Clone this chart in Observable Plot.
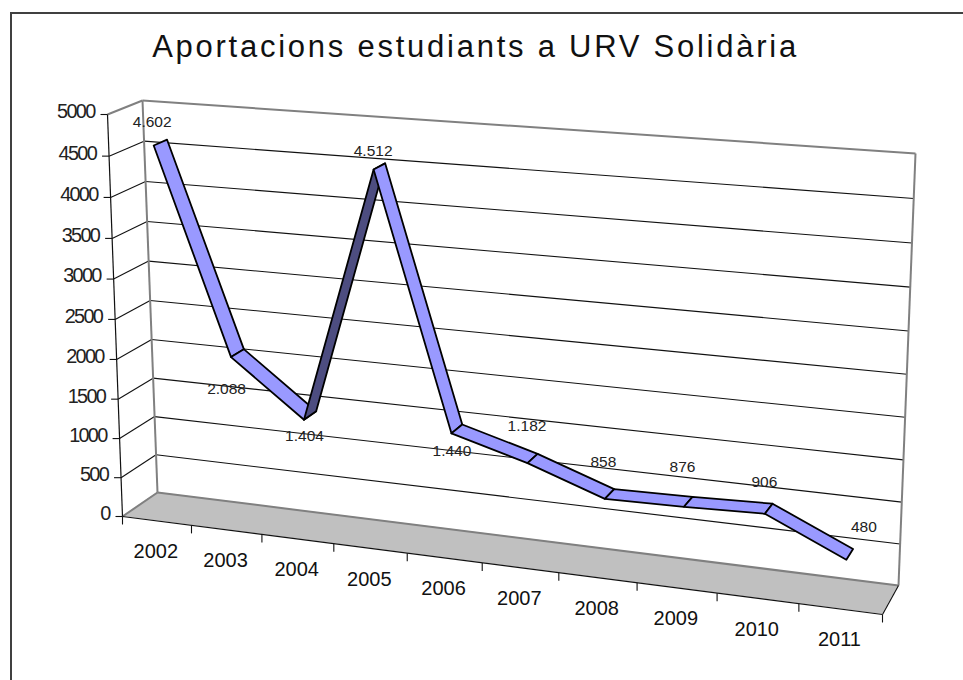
<!DOCTYPE html>
<html>
<head>
<meta charset="utf-8">
<script src="https://cdn.jsdelivr.net/npm/d3@7"></script>
<script src="https://cdn.jsdelivr.net/npm/@observablehq/plot@0.6"></script>
<style>
  html, body { margin: 0; padding: 0; background: #fff; overflow: hidden; width: 963px; height: 680px; }
  #frame { position: absolute; left: 10px; top: 12px; width: 1000px; height: 800px; border: 2px solid #404040; pointer-events: none; }
  #chart { position: absolute; left: 0; top: 0; }
  g[font-size="31"] text { letter-spacing: 2.75px; }
  g[font-size="19.9"] text { letter-spacing: -1.7px; }
</style>
</head>
<body>
<div id="chart"></div>
<div id="frame"></div>
<script>
const chartTitle = "Aportacions estudiants a URV Solidària";
const years = ["2002","2003","2004","2005","2006","2007","2008","2009","2010","2011"];
const values = [4602, 2088, 1404, 4512, 1440, 1182, 858, 876, 906, 480];
const valueLabels = ["4.602","2.088","1.404","4.512","1.440","1.182","858","876","906","480"];
const valueTicks = [0,500,1000,1500,2000,2500,3000,3500,4000,4500,5000];

// Layout: the 3D box as seen on the page (front plane and back wall).
const W = 963, H = 680;
const frontQuad = [[122,516],[882,614],[899,169],[107,114]];
const backQuad  = [[157,492],[898,585],[915,153],[142,100]];
const ribbonFront = 0.29, ribbonBack = 0.68;
const labelNudge = [[-2,-24],[-5,31],[0,16],[-1,-19],[0,17],[-1,-38],[-2,-37],[-2,-40],[-1,-32],[17,-33]];

function homography(q) {
  const [[x0,y0],[x1,y1],[x2,y2],[x3,y3]] = q;
  const sx = x0-x1+x2-x3, sy = y0-y1+y2-y3;
  const dx1 = x1-x2, dx2 = x3-x2, dy1 = y1-y2, dy2 = y3-y2;
  const den = dx1*dy2-dx2*dy1;
  const g = (sx*dy2-dx2*sy)/den, h = (dx1*sy-sx*dy1)/den;
  const a = x1-x0+g*x1, b = x3-x0+h*x3, d = y1-y0+g*y1, e = y3-y0+h*y3;
  return (u,v) => {
    const w = g*u+h*v+1;
    return [(a*u+b*v+x0)/w, (d*u+e*v+y0)/w];
  };
}
const front = homography(frontQuad), back = homography(backQuad);
// category position (0..n), value, depth (0 front .. 1 back) -> page position
function project(cat, val, depth) {
  const u = cat/years.length, v = val/5000;
  const f = front(u,v), b = back(u,v);
  return [f[0]+(b[0]-f[0])*depth, f[1]+(b[1]-f[1])*depth];
}
const seg = (a,b) => ({x1:a[0],y1:a[1],x2:b[0],y2:b[1]});

// floor
const n = years.length;
const floorRows = [
  seg(project(0,0,0), project(0,0,1)),
  seg(project(n,0,0), project(n,0,1))
];
// gridlines
const gridBack = valueTicks.slice(1,-1).map(v => seg(project(0,v,1), project(n,v,1)));
const gridSide = valueTicks.slice(1,-1).map(v => seg(project(0,v,0), project(0,v,1)));
const wallEdges = [
  seg(project(0,5000,0), project(0,5000,1)),
  seg(project(0,5000,1), project(n,5000,1)),
  seg(project(0,5000,1), project(0,0,1)),
  seg(project(n,5000,1), project(n,0,1)),
  seg(project(0,0,1), project(n,0,1)),
  seg(project(0,0,0), project(0,0,1))
];
const frameEdges = [
  seg(project(0,5000,0), project(0,0,0)),
  seg(project(0,0,0), project(n,0,0)),
  seg(project(n,0,0), project(n,0,1))
];
const valueTickRows = valueTicks.map(v => {
  const p = project(0,v,0);
  return {...seg([p[0]-7,p[1]], p), label:String(v), lx:p[0]-13, ly:p[1]-3};
});
const catTickRows = d3.range(n+1).map(i => {
  const p = project(i,0,0);
  return seg(p, [p[0],p[1]+8]);
});
const yearRows = years.map((y,i) => {
  const p = project(i+0.5,0,0);
  return {label:y, x:p[0]-1, y:p[1]+31};
});
// ribbon: one quad per pair of successive years, painted left to right;
// a quad that climbs on the page shows its shaded side
const ribbonRows = [];
values.slice(0,-1).forEach((v,i) => {
  const next = values[i+1];
  const a = project(i+.5,v,ribbonFront), b = project(i+1.5,next,ribbonFront);
  const colour = b[1] < a[1] ? "#4d4d80" : "#9999ff";
  ribbonRows.push({...seg(a, project(i+.5,v,ribbonBack)), s:i, colour});
  ribbonRows.push({...seg(b, project(i+1.5,next,ribbonBack)), s:i, colour});
});
const labelRows = values.map((v,i) => {
  const p = project(i+.5,v,ribbonFront);
  return {label:valueLabels[i], x:p[0]+labelNudge[i][0], y:p[1]+labelNudge[i][1]};
});

const fontFamily = "'Liberation Sans', Arial, sans-serif";
const plot = Plot.plot({
  width: W, height: H,
  margin: 0,
  x: {domain:[0,W], range:[0,W], axis:null},
  y: {domain:[0,H], range:[0,H], axis:null},
  style: {background:"transparent"},
  marks: [
    Plot.area(floorRows, {x1:"x1",y1:"y1",x2:"x2",y2:"y2",fill:"#c0c0c0"}),
    Plot.link(gridBack, {x1:"x1",y1:"y1",x2:"x2",y2:"y2",stroke:"#111",strokeWidth:1.1}),
    Plot.link(gridSide, {x1:"x1",y1:"y1",x2:"x2",y2:"y2",stroke:"#111",strokeWidth:1.1}),
    Plot.link(wallEdges, {x1:"x1",y1:"y1",x2:"x2",y2:"y2",stroke:"#808080",strokeWidth:2}),
    Plot.link(frameEdges, {x1:"x1",y1:"y1",x2:"x2",y2:"y2",stroke:"#111",strokeWidth:1.2}),
    Plot.link(valueTickRows, {x1:"x1",y1:"y1",x2:"x2",y2:"y2",stroke:"#111",strokeWidth:1.1}),
    Plot.link(catTickRows, {x1:"x1",y1:"y1",x2:"x2",y2:"y2",stroke:"#111",strokeWidth:1.1}),
    Plot.text(labelRows, {x:"x", y:"y", text:"label", fontSize:15.5, fill:"#222", fontFamily}),
    Plot.area(ribbonRows, {x1:"x1",y1:"y1",x2:"x2",y2:"y2",z:"s",fill:"colour",stroke:"#000",strokeWidth:1.8,strokeLinejoin:"round"}),
    Plot.text(valueTickRows, {x:"lx",y:"ly",text:"label",textAnchor:"end",fontSize:19.9,fill:"#222",fontFamily}),
    Plot.text(yearRows, {x:"x",y:"y",text:"label",fontSize:20,fill:"#111",fontFamily}),
    Plot.text([chartTitle], {x:()=>475,y:()=>47,text:d=>d,fontSize:31,fill:"#111",fontFamily})
  ]
});
document.getElementById("chart").appendChild(plot);
</script>
</body>
</html>
